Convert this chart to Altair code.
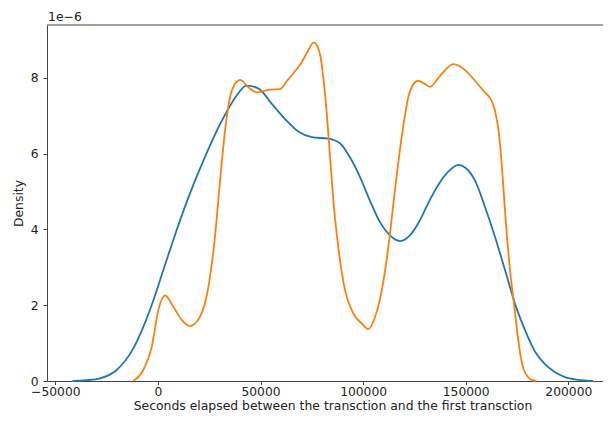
import altair as alt
import pandas as pd

# Blue KDE curve (x in seconds, density in units of 1e-6)
blue_x = [-41500, -35000, -28200, -20100, -12000, -7100, -2200, 2600, 7500, 12400,
          17300, 21300, 25300, 29400, 33500, 37600, 43300, 48900, 55500, 61900,
          68400, 75000, 83000, 88700, 93600, 98500, 103300, 108200, 113100, 118000,
          122800, 127700, 132000, 136600, 141500, 146400, 150000, 154500, 159400, 164300,
          169200, 174000, 178900, 183800, 188500, 193000, 198400, 205000, 212000]
blue_y = [0.0, 0.02, 0.07, 0.29, 0.86, 1.43, 2.13, 2.92, 3.72, 4.48,
          5.18, 5.7, 6.2, 6.68, 7.1, 7.47, 7.79, 7.72, 7.31, 6.91,
          6.58, 6.43, 6.39, 6.27, 5.9, 5.38, 4.76, 4.19, 3.84, 3.69,
          3.84, 4.24, 4.72, 5.17, 5.52, 5.7, 5.62, 5.29, 4.59, 3.8,
          2.92, 2.04, 1.34, 0.77, 0.45, 0.25, 0.1, 0.03, 0.0]

# Orange KDE curve
orange_x = [-12000, -7100, -3000, 200, 3500, 7500, 11600, 15600, 20500, 24600,
            27800, 30300, 32700, 36000, 40000, 44100, 48100, 53800, 59500, 63000,
            66500, 70000, 73000, 76000, 79000, 80600, 82300, 83900, 85500, 87900,
            91200, 95200, 99300, 102500, 105800, 109100, 112300, 115500, 118800, 122000,
            125300, 126900, 129500, 132600, 137500, 144000, 149700, 154500, 159400, 162000,
            164300, 166400, 168000, 169600, 171600, 173700, 175600, 178100, 182100, 184600]
orange_y = [0.0, 0.29, 0.9, 1.87, 2.26, 1.96, 1.61, 1.45, 1.69, 2.48,
            3.8, 5.29, 6.6, 7.66, 7.94, 7.75, 7.61, 7.68, 7.7, 7.92,
            8.15, 8.4, 8.7, 8.93, 8.62, 8.0, 7.04, 5.9, 4.76, 3.53,
            2.39, 1.78, 1.52, 1.37, 1.69, 2.39, 3.53, 5.03, 6.43, 7.48,
            7.88, 7.92, 7.85, 7.76, 8.05, 8.36, 8.2, 7.92, 7.61, 7.45,
            7.13, 6.43, 5.38, 4.15, 2.92, 1.96, 1.08, 0.33, 0.03, 0.0]

x_ticks = [-50000, 0, 50000, 100000, 150000, 200000]
y_ticks = [0, 2, 4, 6, 8]
offset_label = ["1e\u22126"]

series_names = ["blue", "orange"]
series_colors = ["#1f77b4", "#ff7f0e"]

df = pd.concat([
    pd.DataFrame({"x": blue_x, "y": blue_y, "s": "blue", "o": range(len(blue_x))}),
    pd.DataFrame({"x": orange_x, "y": orange_y, "s": "orange", "o": range(len(orange_x))}),
])

FONT = "DejaVu Sans"
TXT = "#222222"
AX = "#444444"
W = 556
H = 356

lines = alt.Chart(df).mark_line(interpolate="monotone", strokeWidth=1.8).encode(
    x=alt.X("x:Q",
            scale=alt.Scale(domain=[-54050, -54050 + W / 2.052 * 1000], nice=False, zero=False),
            axis=alt.Axis(values=x_ticks, format="d", grid=False,
                          title="Seconds elapsed between the transction and the first transction",
                          titleX=285.5, titleY=28.5, titleBaseline="alphabetic",
                          titleAlign="center", labelPadding=1, tickSize=3.5)),
    y=alt.Y("y:Q",
            scale=alt.Scale(domain=[0, 9.39], nice=False),
            axis=alt.Axis(values=y_ticks, format="d", grid=False, title="Density",
                          titleX=-25, titleY=178, titleBaseline="alphabetic",
                          titleAlign="center", titleAngle=270, labelPadding=5)),
    color=alt.Color("s:N", scale=alt.Scale(domain=series_names, range=series_colors), legend=None),
    order="o:Q",
)

# top spine (the right spine lies beyond the picture's edge in the reference)
top_spine = alt.Chart(pd.DataFrame({"t": offset_label})).mark_rule(
    color=AX, strokeWidth=1
).encode(x=alt.value(0), x2=alt.value(W), y=alt.value(0))

offset_text = alt.Chart(pd.DataFrame({"t": offset_label})).mark_text(
    align="left", baseline="alphabetic", font=FONT, fontSize=12.4, color=TXT
).encode(text="t:N", x=alt.value(1), y=alt.value(-3.8))

chart = alt.layer(lines, top_spine, offset_text).properties(
    width=W, height=H,
    autosize=alt.AutoSizeParams(type="none"),
    padding={"left": 39, "top": 17, "right": 0, "bottom": 32},
).configure_view(
    strokeWidth=0
).configure_axis(
    labelFont=FONT, titleFont=FONT, labelFontSize=12.3, titleFontSize=12.4,
    labelColor=TXT, titleColor=TXT, titleFontWeight="normal",
    domainColor=AX, tickColor=AX, tickSize=4,
)

chart.save("out.html", embed_options={"renderer": "svg", "actions": False})
